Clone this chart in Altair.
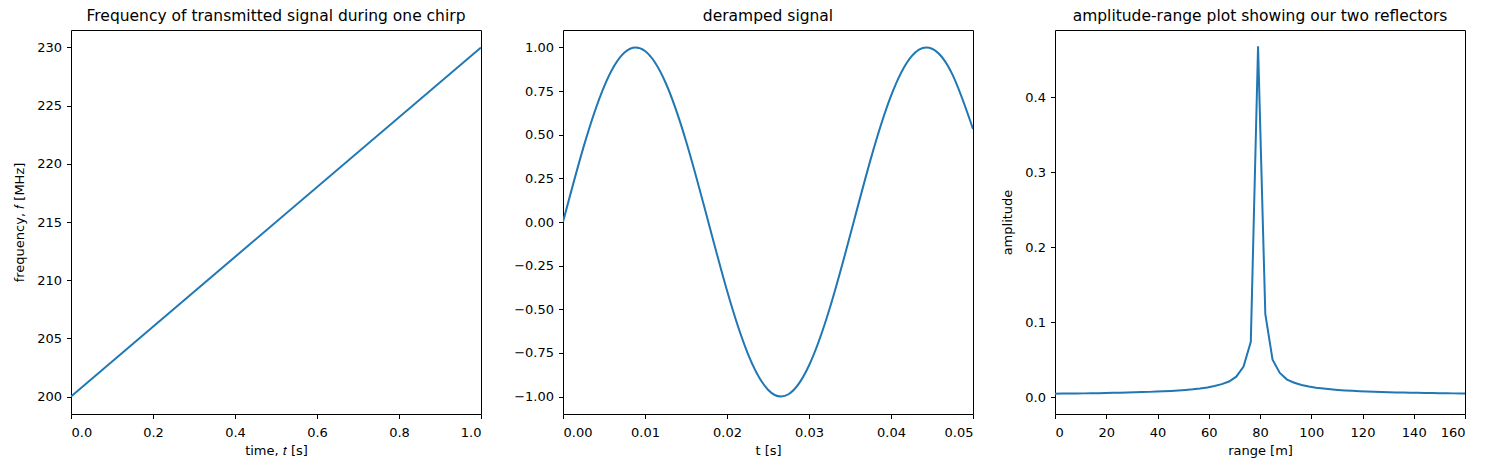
import altair as alt
import pandas as pd

# ---- data ----
chirp_t = [0.0, 1.0]
chirp_f = [200.0, 230.0]

sig_t = [0.0, 0.0025, 0.005, 0.0075, 0.01, 0.0125, 0.015, 0.0175, 0.02, 0.0225,
         0.025, 0.0275, 0.03, 0.0325, 0.035, 0.0375, 0.04, 0.0425, 0.045, 0.0475, 0.05]
sig_v = [0.0, 0.4288, 0.7748, 0.9710, 0.9797, 0.7993, 0.4642, 0.0396, -0.3926, -0.7492,
         -0.9608, -0.9869, -0.8224, -0.4989, -0.0792, 0.3560, 0.7223, 0.9490, 0.9925, 0.8441, 0.5329]

rng_m = [0.0, 2.83, 5.66, 8.49, 11.32, 14.15, 16.98, 19.81, 22.64, 25.47,
         28.3, 31.13, 33.96, 36.79, 39.62, 42.45, 45.28, 48.11, 50.94, 53.77,
         56.6, 59.43, 62.26, 65.09, 67.92, 70.75, 73.58, 76.41, 79.24, 82.07,
         84.9, 87.73, 90.56, 93.39, 96.22, 99.05, 101.88, 104.71, 107.54, 110.37,
         113.2, 116.03, 118.86, 121.69, 124.52, 127.35, 130.18, 133.01, 135.84, 138.67,
         141.5, 144.33, 147.16, 149.99, 152.82, 155.65, 158.48, 161.31]
amp = [0.0048, 0.0049, 0.0050, 0.0051, 0.0052, 0.0054, 0.0055, 0.0057, 0.0059, 0.0061,
       0.0063, 0.0066, 0.0069, 0.0072, 0.0076, 0.0080, 0.0085, 0.0091, 0.0098, 0.0106,
       0.0117, 0.0131, 0.0150, 0.0175, 0.0210, 0.0275, 0.0410, 0.0740, 0.4680, 0.1110,
       0.0500, 0.0324, 0.0236, 0.0194, 0.0164, 0.0143, 0.0128, 0.0116, 0.0106, 0.0098,
       0.0091, 0.0086, 0.0081, 0.0077, 0.0073, 0.0070, 0.0067, 0.0065, 0.0063, 0.0061,
       0.0059, 0.0057, 0.0056, 0.0054, 0.0053, 0.0052, 0.0050, 0.0049]

FONT = "DejaVu Sans"
BLUE = "#1f77b4"
W, H = 410, 384


def title(text):
    return alt.TitleParams(text=text, fontSize=15.5, fontWeight="normal", font=FONT,
                           color="black", anchor="middle", offset=6)


def axis(title_text, values, fmt):
    return alt.Axis(title=title_text, values=values, format=fmt, grid=False)


df1 = pd.DataFrame({"t": chirp_t, "f": chirp_f})
df2 = pd.DataFrame({"t": sig_t, "v": sig_v})
df3 = pd.DataFrame({"r": rng_m, "a": amp})

c1 = alt.Chart(df1).mark_line(color=BLUE, strokeWidth=2, clip=True).encode(
    x=alt.X("t:Q", scale=alt.Scale(domain=[0, 1], nice=False, zero=False),
            axis=axis("time, 𝑡 [s]", [0, 0.2, 0.4, 0.6, 0.8, 1.0], ".1f")),
    y=alt.Y("f:Q", scale=alt.Scale(domain=[198.5, 231.5], nice=False, zero=False),
            axis=axis("frequency, 𝑓 [MHz]", [200, 205, 210, 215, 220, 225, 230], "d")),
).properties(width=W, height=H, title=title("Frequency of transmitted signal during one chirp"))

c2 = alt.Chart(df2).mark_line(color=BLUE, strokeWidth=2, clip=True, interpolate="natural").encode(
    x=alt.X("t:Q", scale=alt.Scale(domain=[0, 0.05], nice=False, zero=False),
            axis=axis("t [s]", [0, 0.01, 0.02, 0.03, 0.04, 0.05], ".2f")),
    y=alt.Y("v:Q", scale=alt.Scale(domain=[-1.1, 1.1], nice=False, zero=False),
            axis=axis(None, [-1, -0.75, -0.5, -0.25, 0, 0.25, 0.5, 0.75, 1], ".2f")),
).properties(width=W, height=H, title=title("deramped signal"))

c3 = alt.Chart(df3).mark_line(color=BLUE, strokeWidth=2, clip=True).encode(
    x=alt.X("r:Q", scale=alt.Scale(domain=[0, 160], nice=False, zero=False),
            axis=axis("range [m]", [0, 20, 40, 60, 80, 100, 120, 140, 160], "d")),
    y=alt.Y("a:Q", scale=alt.Scale(domain=[-0.0223, 0.4897], nice=False, zero=False),
            axis=axis("amplitude", [0, 0.1, 0.2, 0.3, 0.4], ".1f")),
).properties(width=W, height=H, title=title("amplitude-range plot showing our two reflectors"))

chart = alt.hconcat(c1, c2, c3, spacing=82, bounds="flush").properties(
    padding={"left": 5, "top": 0, "right": 5, "bottom": 5},
    background="white",
).configure_view(
    stroke="black", strokeWidth=1
).configure_axis(
    domain=False, ticks=True, tickColor="black", tickWidth=1, tickSize=4.5,
    labelFont=FONT, labelFontSize=13, labelColor="black",
    titleFont=FONT, titleFontSize=13, titleFontWeight="normal", titleColor="black",
).configure_axisX(
    labelPadding=7.5, titlePadding=5,
).configure_axisY(
    labelPadding=5, titlePadding=10,
)

chart.save("out.html", embed_options={"renderer": "svg", "actions": False})
